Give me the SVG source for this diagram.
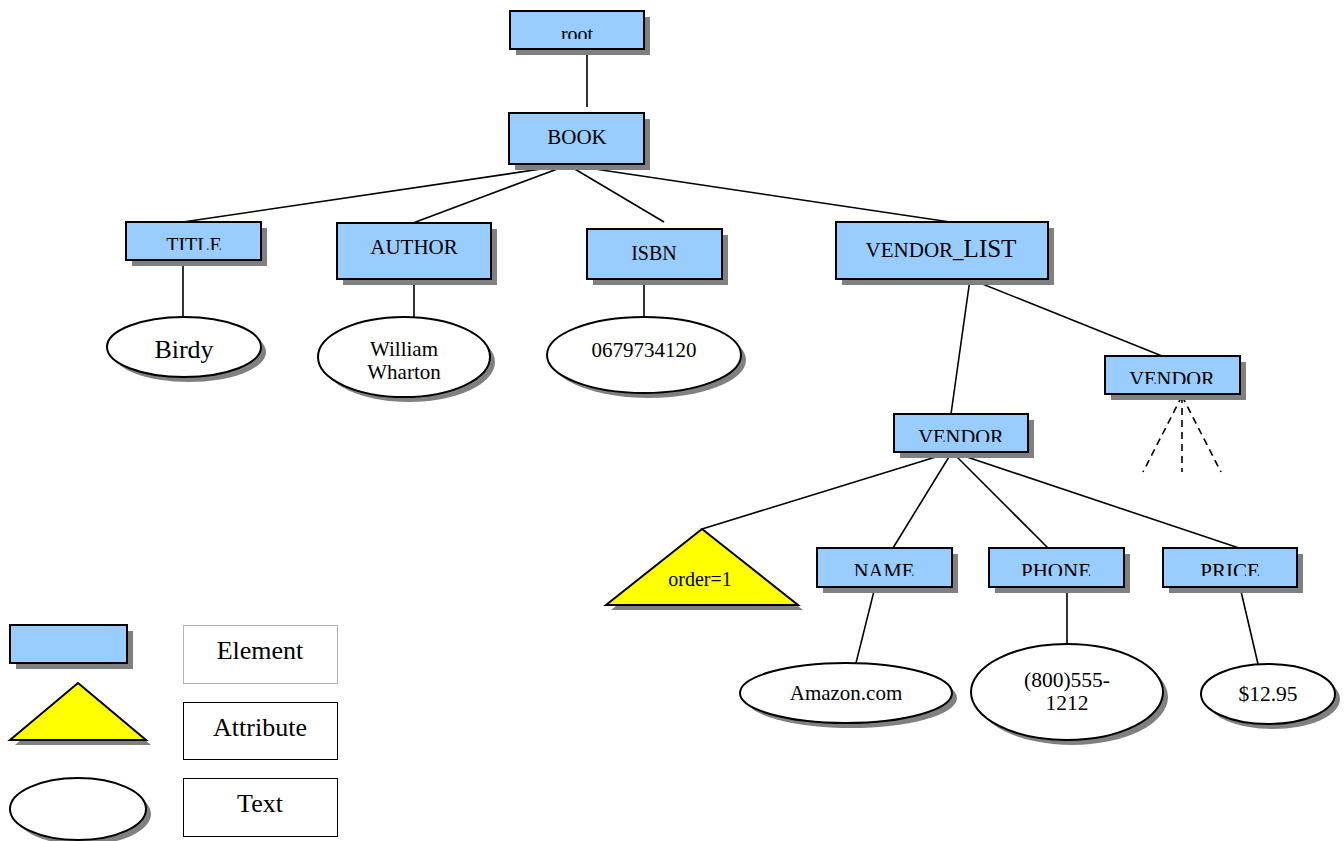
<svg xmlns="http://www.w3.org/2000/svg" width="1344" height="841" viewBox="0 0 1344 841">
<style>
.el{fill:#99ccff;stroke:#000;stroke-width:2}
.sh{fill:#808080}
.tx{fill:#fff;stroke:#000;stroke-width:2}
.at{fill:#ffff00;stroke:#000;stroke-width:2}
.ln{stroke:#000;stroke-width:1.6;fill:none}
.dl{stroke:#000;stroke-width:1.6;fill:none;stroke-dasharray:7 5}
text{font-family:"Liberation Serif","Times New Roman",serif;fill:#000;text-anchor:middle}
.lb{fill:#fff;stroke:#000;stroke-width:1}
</style>
<defs>
<clipPath id="c-root" clipPathUnits="userSpaceOnUse"><rect x="510" y="11" width="134" height="28"/></clipPath>
<clipPath id="c-title" clipPathUnits="userSpaceOnUse"><rect x="126" y="222" width="135" height="28"/></clipPath>
<clipPath id="c-v1" clipPathUnits="userSpaceOnUse"><rect x="894" y="414" width="134" height="28"/></clipPath>
<clipPath id="c-v2" clipPathUnits="userSpaceOnUse"><rect x="1105" y="356" width="135" height="28"/></clipPath>
<clipPath id="c-name" clipPathUnits="userSpaceOnUse"><rect x="817" y="548" width="135" height="28"/></clipPath>
<clipPath id="c-phone" clipPathUnits="userSpaceOnUse"><rect x="989" y="548" width="135" height="28"/></clipPath>
<clipPath id="c-price" clipPathUnits="userSpaceOnUse"><rect x="1163" y="548" width="134" height="28"/></clipPath>
<clipPath id="c-wh" clipPathUnits="userSpaceOnUse"><rect x="318" y="317" width="173" height="66"/></clipPath>
</defs>

<g id="connectors">
<line class="ln" x1="587" y1="49" x2="587" y2="107"/>
<line class="ln" x1="568" y1="165" x2="183" y2="222"/>
<line class="ln" x1="568" y1="165" x2="413" y2="223"/>
<line class="ln" x1="568" y1="165" x2="664" y2="222"/>
<line class="ln" x1="568" y1="165" x2="950" y2="222"/>
<line class="ln" x1="183" y1="260" x2="183" y2="317"/>
<line class="ln" x1="414" y1="279" x2="414" y2="317"/>
<line class="ln" x1="644" y1="279" x2="644" y2="317"/>
<line class="ln" x1="970" y1="279" x2="951" y2="414"/>
<line class="ln" x1="970" y1="279" x2="1162" y2="356"/>
<line class="ln" x1="952" y1="452" x2="702" y2="529"/>
<line class="ln" x1="952" y1="452" x2="893" y2="548"/>
<line class="ln" x1="952" y1="452" x2="1048" y2="548"/>
<line class="ln" x1="952" y1="452" x2="1239" y2="548"/>
<line class="ln" x1="875" y1="587" x2="856" y2="663"/>
<line class="ln" x1="1067" y1="587" x2="1067" y2="644"/>
<line class="ln" x1="1240" y1="587" x2="1258" y2="664"/>
<line class="dl" x1="1182" y1="396" x2="1143" y2="472"/>
<line class="dl" x1="1182" y1="396" x2="1182" y2="472"/>
<line class="dl" x1="1182" y1="396" x2="1221" y2="472"/>
</g>

<g id="root">
<rect class="sh" x="516" y="17" width="134" height="38"/>
<rect class="el" x="510" y="11" width="134" height="38"/>
<text x="577" y="41" font-size="20" clip-path="url(#c-root)">root</text>
</g>

<g id="book">
<rect class="sh" x="515" y="119" width="135" height="51"/>
<rect class="el" x="509" y="113" width="135" height="51"/>
<text x="577" y="144" font-size="21">BOOK</text>
</g>

<g id="title">
<rect class="sh" x="132" y="228" width="135" height="38"/>
<rect class="el" x="126" y="222" width="135" height="38"/>
<text x="194" y="252" font-size="20" clip-path="url(#c-title)">TITLE</text>
</g>

<g id="author">
<rect class="sh" x="343" y="229" width="154" height="56"/>
<rect class="el" x="337" y="223" width="154" height="56"/>
<text x="414" y="254" font-size="21">AUTHOR</text>
</g>

<g id="isbn">
<rect class="sh" x="593" y="235" width="135" height="50"/>
<rect class="el" x="587" y="229" width="135" height="50"/>
<text x="654" y="260" font-size="20">ISBN</text>
</g>

<g id="vendor-list">
<rect class="sh" x="842" y="228" width="212" height="57"/>
<rect class="el" x="836" y="222" width="212" height="57"/>
<text x="941" y="257"><tspan font-size="21">VENDOR_</tspan><tspan font-size="25">LIST</tspan></text>
</g>

<g id="birdy">
<ellipse class="sh" cx="189" cy="352" rx="77" ry="30"/>
<ellipse class="tx" cx="184" cy="347" rx="77" ry="30"/>
<text x="184" y="358" font-size="26">Birdy</text>
</g>

<g id="william-wharton">
<ellipse class="sh" cx="409" cy="362" rx="86" ry="40"/>
<ellipse class="tx" cx="404" cy="357" rx="86" ry="40"/>
<text x="404" y="356" font-size="21">William</text>
<text x="404" y="379" font-size="21" clip-path="url(#c-wh)">Wharton</text>
</g>

<g id="isbn-text">
<ellipse class="sh" cx="649" cy="360" rx="97" ry="38"/>
<ellipse class="tx" cx="644" cy="355" rx="97" ry="38"/>
<text x="644" y="357" font-size="21">0679734120</text>
</g>

<g id="vendor-1">
<rect class="sh" x="900" y="420" width="134" height="38"/>
<rect class="el" x="894" y="414" width="134" height="38"/>
<text x="961" y="444" font-size="20.5" clip-path="url(#c-v1)">VENDOR</text>
</g>

<g id="vendor-2">
<rect class="sh" x="1111" y="362" width="135" height="38"/>
<rect class="el" x="1105" y="356" width="135" height="38"/>
<text x="1172" y="386" font-size="20.5" clip-path="url(#c-v2)">VENDOR</text>
</g>

<g id="order-attr">
<polygon class="sh" points="707,534 803,610 611,610"/>
<polygon class="at" points="702,529 798,605 606,605"/>
<text x="700" y="586" font-size="20">order=1</text>
</g>

<g id="name">
<rect class="sh" x="823" y="554" width="135" height="39"/>
<rect class="el" x="817" y="548" width="135" height="39"/>
<text x="884" y="578" font-size="20.5" clip-path="url(#c-name)">NAME</text>
</g>

<g id="phone">
<rect class="sh" x="995" y="554" width="135" height="39"/>
<rect class="el" x="989" y="548" width="135" height="39"/>
<text x="1056" y="578" font-size="21" clip-path="url(#c-phone)">PHONE</text>
</g>

<g id="price">
<rect class="sh" x="1169" y="554" width="134" height="39"/>
<rect class="el" x="1163" y="548" width="134" height="39"/>
<text x="1230" y="578" font-size="21" clip-path="url(#c-price)">PRICE</text>
</g>

<g id="amazon">
<ellipse class="sh" cx="851" cy="698" rx="106" ry="30"/>
<ellipse class="tx" cx="846" cy="693" rx="106" ry="30"/>
<text x="846" y="700" font-size="21">Amazon.com</text>
</g>

<g id="phone-text">
<ellipse class="sh" cx="1072" cy="697" rx="96" ry="48"/>
<ellipse class="tx" cx="1067" cy="692" rx="96" ry="48"/>
<text x="1067" y="687" font-size="21.5">(800)555-</text>
<text x="1067" y="710" font-size="21.5">1212</text>
</g>

<g id="price-text">
<ellipse class="sh" cx="1273" cy="699" rx="67" ry="30"/>
<ellipse class="tx" cx="1268" cy="694" rx="67" ry="30"/>
<text x="1268" y="701" font-size="21.5">$12.95</text>
</g>

<g id="legend">
<rect class="sh" x="16" y="631" width="117" height="38"/>
<rect class="el" x="10" y="625" width="117" height="38"/>
<polygon class="sh" points="83,688 151,745 15,745"/>
<polygon class="at" points="78,683 146,740 10,740"/>
<ellipse class="sh" cx="83" cy="814" rx="68" ry="31"/>
<ellipse class="tx" cx="78" cy="809" rx="68" ry="31"/>
<rect x="183.5" y="625.5" width="154" height="58" fill="#fff" stroke="#666" stroke-width="1" stroke-dasharray="1 1"/>
<text x="260" y="659" font-size="26">Element</text>
<rect class="lb" x="183.5" y="702.5" width="154" height="57"/>
<text x="260" y="736" font-size="26">Attribute</text>
<rect class="lb" x="183.5" y="778.5" width="154" height="58"/>
<text x="260" y="812" font-size="26">Text</text>
</g>
</svg>
